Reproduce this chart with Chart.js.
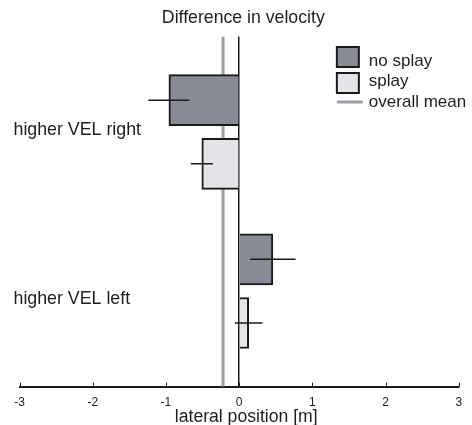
<!DOCTYPE html>
<html>
<head>
<meta charset="utf-8">
<script src="https://cdn.jsdelivr.net/npm/chart.js@4/dist/chart.umd.min.js"></script>
<style>
  html, body { margin: 0; padding: 0; background: #ffffff; }
  #wrap { width: 472px; height: 425px; }
</style>
</head>
<body>
<div id="wrap"><canvas id="c" width="472" height="425"></canvas></div>
<script>
// ---- data ----
const groups = ['higher VEL right', 'higher VEL left'];
const groupPos = [1, 2];
const labelPos = [0.99, 2.05];
const noSplay = [-0.96, 0.46];
const noSplayErr = [0.28, 0.31];
const splay = [-0.51, 0.13];
const splayErr = [0.15, 0.19];
const overallMean = -0.22;
const xTicks = [-3, -2, -1, 0, 1, 2, 3];
const yMin = 0.4, yMax = 2.6;
const titleText = 'Difference in velocity';
const xTitleText = 'lateral position [m]';

const TXT = '#1e1e1e';
const C_NOSPLAY = '#878b93';
const C_SPLAY = '#e4e5e8';
const C_MEAN = '#9a9ea5';
const C_EDGE = '#1a1a1a';
const OFF = 0.2;
const FAMILY = '"Liberation Sans", Arial, Helvetica, sans-serif';

Chart.defaults.font.family = FAMILY;
Chart.defaults.color = TXT;

function errSet(vals, errs, sign) {
  return vals.map((v, i) => ({
    type: 'line',
    data: [{ x: v - errs[i], y: groupPos[i] + sign * OFF }, { x: v + errs[i], y: groupPos[i] + sign * OFF }],
    borderColor: C_EDGE, borderWidth: 1.5, pointRadius: 0, fill: false, order: 0
  }));
}

const datasets = [
  { type: 'bar', label: 'no splay',
    data: noSplay.map((v, i) => ({ x: v, y: groupPos[i] - OFF })),
    backgroundColor: C_NOSPLAY, borderColor: C_EDGE, borderWidth: 2,
    barThickness: 51, grouped: false, order: 5 },
  { type: 'bar', label: 'splay',
    data: splay.map((v, i) => ({ x: v, y: groupPos[i] + OFF })),
    backgroundColor: C_SPLAY, borderColor: C_EDGE, borderWidth: 2,
    barThickness: 51, grouped: false, order: 5 },
  { type: 'line', label: 'overall mean',
    data: [{ x: overallMean, y: yMin }, { x: overallMean, y: yMax }],
    borderColor: C_MEAN, borderWidth: 3, pointRadius: 0, fill: false, order: 10 },
  ...errSet(noSplay, noSplayErr, -1),
  ...errSet(splay, splayErr, 1)
];

const legendItems = [
  { text: 'no splay', kind: 'box', fill: C_NOSPLAY },
  { text: 'splay', kind: 'box', fill: C_SPLAY },
  { text: 'overall mean', kind: 'line', color: C_MEAN }
];

const customLegend = {
  id: 'customLegend',
  afterDraw(chart) {
    const ctx = chart.ctx, ca = chart.chartArea;
    const x0 = ca.right - 122;
    const rowsTop = [ca.top + 10.5, ca.top + 36.5];
    const baselines = [ca.top + 29, ca.top + 49.5, ca.top + 70];
    ctx.save();
    legendItems.forEach((it, i) => {
      if (it.kind === 'box') {
        ctx.fillStyle = it.fill;
        ctx.strokeStyle = C_EDGE;
        ctx.lineWidth = 2;
        ctx.fillRect(x0, rowsTop[i], 22, 20);
        ctx.strokeRect(x0, rowsTop[i], 22, 20);
      } else {
        ctx.strokeStyle = it.color;
        ctx.lineWidth = 3;
        ctx.beginPath();
        ctx.moveTo(x0, ca.top + 65.5);
        ctx.lineTo(x0 + 26, ca.top + 65.5);
        ctx.stroke();
      }
      ctx.fillStyle = TXT;
      ctx.font = '17px ' + FAMILY;
      ctx.textAlign = 'left';
      ctx.textBaseline = 'alphabetic';
      ctx.fillText(it.text, x0 + 32, baselines[i]);
    });
    ctx.restore();
  }
};

const axisExtras = {
  id: 'axisExtras',
  afterLayout(chart) {
    if (chart.titleBlock) { chart.titleBlock.left += 3.3; chart.titleBlock.right += 3.3; }
  },
  afterDatasetsDraw(chart) {
    const ctx = chart.ctx, xs = chart.scales.x, ca = chart.chartArea;
    ctx.save();
    ctx.strokeStyle = C_EDGE;
    ctx.lineWidth = 1;
    xTicks.forEach(t => {
      const px = Math.round(xs.getPixelForValue(t)) + 0.5;
      ctx.beginPath();
      ctx.moveTo(px, ca.bottom);
      ctx.lineTo(px, ca.bottom - 4);
      ctx.stroke();
    });
    ctx.restore();
  },
  afterDraw(chart) {
    const ctx = chart.ctx, ca = chart.chartArea;
    ctx.save();
    ctx.fillStyle = TXT;
    ctx.font = '17.6px ' + FAMILY;
    ctx.textAlign = 'center';
    ctx.textBaseline = 'alphabetic';
    ctx.fillText(xTitleText, (ca.left + ca.right) / 2 + 7, ca.bottom + 35);
    ctx.restore();
  }
};

new Chart(document.getElementById('c'), {
  type: 'bar',
  data: { datasets },
  options: {
    indexAxis: 'y',
    responsive: false,
    animation: false,
    devicePixelRatio: 1,
    layout: { padding: { left: 19.5, right: 11.5, top: 0, bottom: 6.7 } },
    plugins: {
      legend: { display: false },
      tooltip: { enabled: false },
      title: {
        display: true,
        text: titleText,
        color: TXT,
        font: { size: 17.7, weight: 'normal', lineHeight: 1 },
        padding: { top: 9.15, bottom: 9.65 }
      }
    },
    scales: {
      x: {
        type: 'linear',
        min: -3, max: 3,
        offset: false,
        afterBuildTicks: s => { s.ticks = xTicks.map(v => ({ value: v })); },
        ticks: { color: TXT, font: { size: 12, lineHeight: 1 }, padding: 9.8, maxRotation: 0 },
        grid: {
          drawTicks: false,
          color: c => (c.tick && c.tick.value === 0) ? C_EDGE : 'rgba(0,0,0,0)',
          lineWidth: 1.5
        },
        border: { display: true, color: C_EDGE, width: 2 },
        title: { display: false }
      },
      y: {
        type: 'linear',
        reverse: true,
        offset: false,
        min: yMin, max: yMax,
        afterBuildTicks: s => { s.ticks = labelPos.map(v => ({ value: v })); },
        ticks: { mirror: true, padding: -2, color: TXT, font: { size: 17.8 },
                 callback: (v, i) => groups[i] },
        grid: { display: false, drawTicks: false },
        border: { display: false }
      }
    }
  },
  plugins: [axisExtras, customLegend]
});
</script>
</body>
</html>
